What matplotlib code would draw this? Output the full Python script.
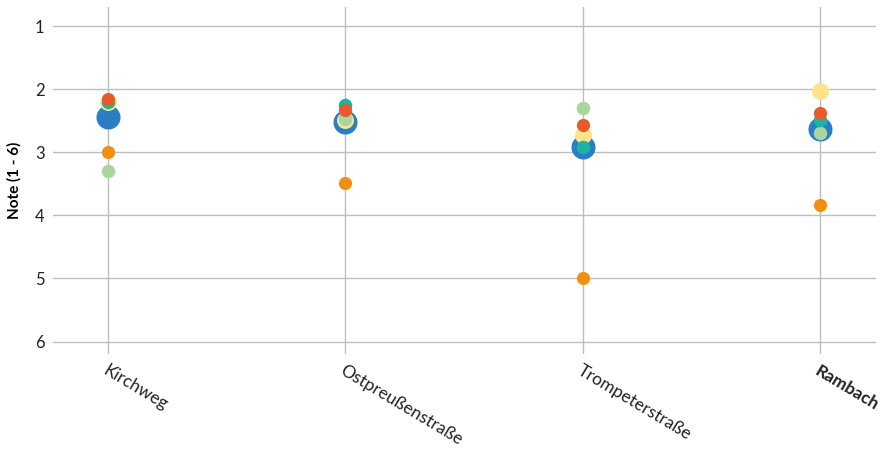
import matplotlib.pyplot as plt

plt.rcParams['font.family'] = ['Lato', 'DejaVu Sans']

locations = ['Kirchweg', 'Ostpreußenstraße', 'Trompeterstraße', 'Rambach']

# grades per series (1 = best, 6 = worst)
overall = [2.44, 2.52, 2.92, 2.63]
series_yellow = [2.20, 2.49, 2.73, 2.03]
series_green = [3.30, 2.48, 2.30, 2.70]
series_teal = [2.20, 2.25, 2.92, 2.49]
series_red = [2.16, 2.33, 2.57, 2.37]
series_orange = [3.00, 3.49, 5.00, 3.84]

fig = plt.figure(figsize=(8.83, 4.5), dpi=100)
ax = fig.add_axes([0.060, 0.213, 0.932, 0.771])

x = range(len(locations))
ax.scatter(x, overall, s=300, color='#2a7fc4', zorder=3, linewidths=0)
ax.scatter(x, series_yellow, s=150, color='#fde48b', zorder=4, linewidths=0)
ax.scatter(x, series_green, s=95, color='#a8d5a0', zorder=5, linewidths=0)
ax.scatter(x, series_teal, s=95, color='#1db3a4', zorder=6, linewidths=0)
ax.scatter(x, series_red, s=90, color='#e85a2c', zorder=7, linewidths=0)
ax.scatter(x, series_orange, s=90, color='#f28f10', zorder=8, linewidths=0)

ax.set_xlim(-0.233, 3.236)
ax.set_ylim(6.2, 0.7)
ax.set_yticks([1, 2, 3, 4, 5, 6])
ax.set_xticks(list(x))
ax.set_xticklabels(locations, rotation=-31, ha='left', va='top',
                   rotation_mode='anchor', fontsize=12.5)
ax.get_xticklabels()[-1].set_fontweight('bold')
ax.tick_params(axis='both', length=0, colors='#222222')
ax.tick_params(axis='y', labelsize=12, pad=6)
ax.tick_params(axis='x', pad=6)

ax.grid(True, color='#bdbdbd', linewidth=1)
ax.set_axisbelow(True)
for s in ax.spines.values():
    s.set_visible(False)

ax.set_ylabel('Note (1 - 6)', fontsize=11, fontweight='bold', labelpad=10)

fig.savefig('out.png', dpi=100)
